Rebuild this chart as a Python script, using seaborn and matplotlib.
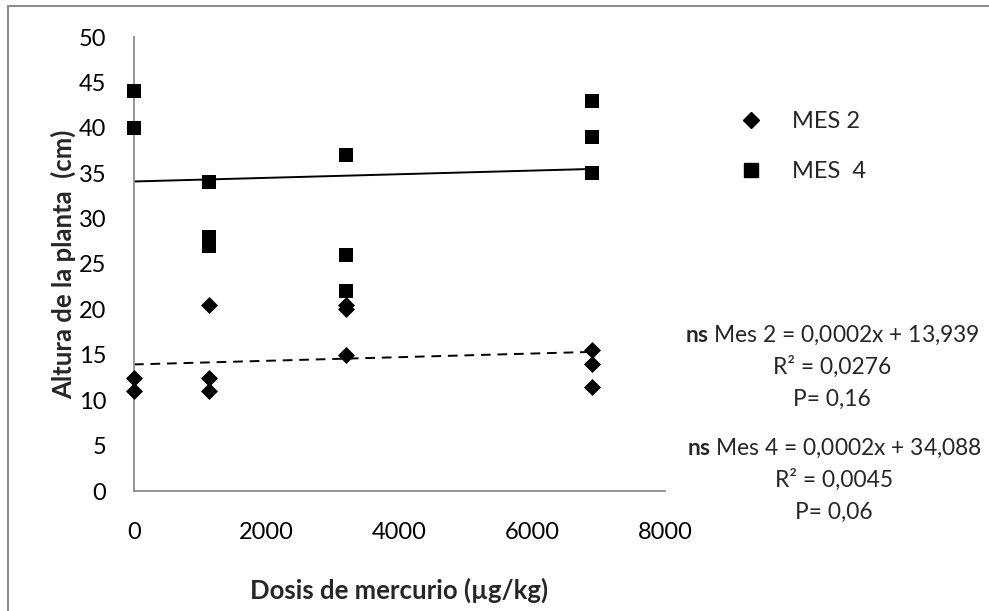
import matplotlib
matplotlib.use("Agg")
import matplotlib.pyplot as plt
from matplotlib.lines import Line2D
import seaborn as sns
import pandas as pd
import numpy as np

# Mercury dose (µg/kg) and plant height (cm) for each sampled plant
mes2_dose = [0, 0, 1133, 1133, 1133, 3200, 3200, 3200, 6900, 6900, 6900]
mes2_height = [12.5, 11, 20.5, 12.5, 11, 20.5, 20, 15, 15.5, 14, 11.5]

mes4_dose = [0, 0, 1133, 1133, 1133, 3200, 3200, 3200, 6900, 6900, 6900]
mes4_height = [44, 40, 34, 28, 27, 37, 26, 22, 43, 39, 35]

# Linear trend lines (slope, intercept)
mes2_fit = (0.0002, 13.939)
mes4_fit = (0.0002, 34.088)

legend_labels = ["MES 2", "MES  4"]
eq_lines_2 = ["$\\mathbf{ns}$ Mes 2 = 0,0002x + 13,939", "R² = 0,0276", "P= 0,16"]
eq_lines_4 = ["$\\mathbf{ns}$ Mes 4 = 0,0002x + 34,088", "R² = 0,0045", "P= 0,06"]

x_ticks = [0, 2000, 4000, 6000, 8000]
y_ticks = [0, 5, 10, 15, 20, 25, 30, 35, 40, 45, 50]

sns.set_theme(style="white")
plt.rcParams["font.family"] = ["Lato", "DejaVu Sans"]
plt.rcParams["mathtext.fontset"] = "custom"
plt.rcParams["mathtext.rm"] = "Lato"
plt.rcParams["mathtext.bf"] = "Lato:bold"

FS = 17
FS_EQ = 16.4
FS_LAB = 18.5

df2 = pd.DataFrame({"dose": mes2_dose, "height": mes2_height})
df4 = pd.DataFrame({"dose": mes4_dose, "height": mes4_height})

fig = plt.figure(figsize=(9.89, 6.11), dpi=100)
ax = fig.add_axes([134 / 989, 1 - 491 / 611, (665 - 134) / 989, (491 - 37) / 611])

sns.scatterplot(data=df2, x="dose", y="height", ax=ax, marker="D", s=75,
                color="black", edgecolor="black", linewidth=0, zorder=3, clip_on=False)
sns.scatterplot(data=df4, x="dose", y="height", ax=ax, marker="s", s=115,
                color="black", edgecolor="black", linewidth=0, zorder=3, clip_on=False)

xfit = np.array([0, max(mes2_dose)])
ax.plot(xfit, mes2_fit[1] + mes2_fit[0] * xfit, color="black", lw=1.4,
        ls=(0, (5, 3.5)), zorder=2)
xfit4 = np.array([0, max(mes4_dose)])
ax.plot(xfit4, mes4_fit[1] + mes4_fit[0] * xfit4, color="black", lw=1.4, zorder=2)

ax.set_xlim(0, 8000)
ax.set_ylim(0, 50)
ax.set_xticks(x_ticks)
ax.set_yticks(y_ticks)
ax.tick_params(axis="both", labelsize=FS, colors="#8c8c8c", labelcolor="black",
               length=7, width=1.3, direction="out")
ax.tick_params(axis="x", pad=15)
ax.tick_params(axis="y", pad=13)
for side in ["top", "right"]:
    ax.spines[side].set_visible(False)
for side in ["left", "bottom"]:
    ax.spines[side].set_color("#8c8c8c")
    ax.spines[side].set_linewidth(1.3)
ax.set_facecolor("white")

ax.set_xlabel("Dosis de mercurio (µg/kg)", fontsize=FS_LAB, fontweight="bold", labelpad=25)
ax.set_ylabel("")
fig.text(63 / 989, 1 - 264 / 611, "Altura de la planta  (cm)", rotation=90,
         ha="center", va="center", fontsize=FS_LAB, fontweight="bold")

handles = [
    Line2D([], [], marker="D", ls="none", color="black", markersize=8),
    Line2D([], [], marker="s", ls="none", color="black", markersize=10.5),
]
fig.legend(handles, legend_labels, loc="upper left", bbox_to_anchor=(706 / 989, 1 - 90 / 611),
           frameon=False, fontsize=FS, labelspacing=1.22, handletextpad=0.75)

for i, t in enumerate(eq_lines_2):
    fig.text(832 / 989, 1 - (335 + 32 * i) / 611, t, ha="center", va="center", fontsize=FS_EQ)
for i, t in enumerate(eq_lines_4):
    fig.text(834 / 989, 1 - (448 + 32 * i) / 611, t, ha="center", va="center", fontsize=FS_EQ)

# outer frame (left and top edges)
fig.add_artist(Line2D([8 / 989, 8 / 989], [0, 1 - 6 / 611], transform=fig.transFigure,
                      color="#8c8c8c", lw=1.5))
fig.add_artist(Line2D([8 / 989, 1], [1 - 6 / 611, 1 - 6 / 611], transform=fig.transFigure,
                      color="#8c8c8c", lw=1.5))

fig.savefig("out.png", dpi=100, facecolor="white")
